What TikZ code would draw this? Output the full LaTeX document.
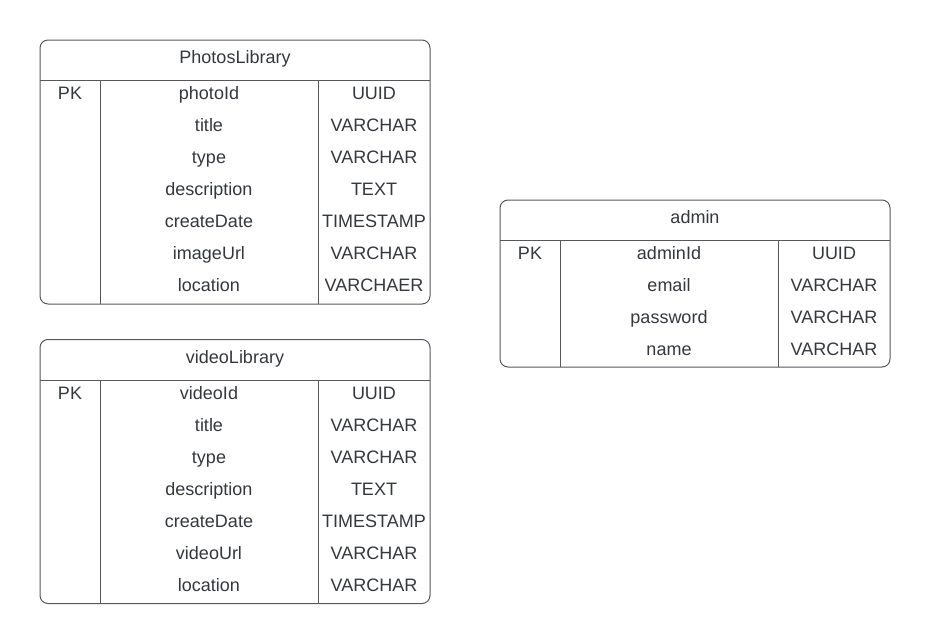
\documentclass[tikz,border=0pt]{standalone}
\usepackage{fontspec}
\setmainfont{Liberation Sans}
\usetikzlibrary{positioning}
\definecolor{linegray}{HTML}{55585F}
\definecolor{textgray}{HTML}{34373E}

\begin{document}
\begin{tikzpicture}
  [x=1pt,y=-1pt,font=\fontsize{18}{21}\selectfont]
      \tikzstyle{table_style} = [draw=linegray, line width=1, rounded corners=8]
      \tikzstyle{line_style} = [draw=linegray, line width=1]
      \tikzstyle{cell} = [text=textgray, anchor=base, inner sep=0]
  \useasboundingbox (0,0) rectangle (930,643);
  % PhotosLibrary
  \node[table_style, minimum width=390pt, minimum height=264pt] (photos) at (235,172) {};
  \node[cell] (p0) at (235,63.5) {PhotosLibrary};
  \draw[line_style] (40,80.5) -- (430,80.5);
  \draw[line_style] (100.5,80.5) -- (100.5,304);
  \draw[line_style] (318.5,80.5) -- (318.5,304);
  \node[cell] (pk1) at (70,99.5) {PK};
  \node[cell] (p1) at (209,99.5) {photoId};
  \node[cell] (p2) at (209,131.5) {title};
  \node[cell] (p3) at (209,163.5) {type};
  \node[cell] (p4) at (209,195.5) {description};
  \node[cell] (p5) at (209,227.5) {createDate};
  \node[cell] (p6) at (209,259.5) {imageUrl};
  \node[cell] (p7) at (209,291.5) {location};
  \node[cell] (pt1) at (374,99.5) {UUID};
  \node[cell] (pt2) at (374,131.5) {VARCHAR};
  \node[cell] (pt3) at (374,163.5) {VARCHAR};
  \node[cell] (pt4) at (374,195.5) {TEXT};
  \node[cell] (pt5) at (374,227.5) {TIMESTAMP};
  \node[cell] (pt6) at (374,259.5) {VARCHAR};
  \node[cell] (pt7) at (374,291.5) {VARCHAER};
  % videoLibrary
  \node[table_style, minimum width=390pt, minimum height=264pt] (videos) at (235,471.5) {};
  \node[cell] (v0) at (235,363.5) {videoLibrary};
  \draw[line_style] (40,380) -- (430,380);
  \draw[line_style] (100.5,380) -- (100.5,603.5);
  \draw[line_style] (318.5,380) -- (318.5,603.5);
  \node[cell] (vk1) at (70,399) {PK};
  \node[cell] (v1) at (209,399) {videoId};
  \node[cell] (v2) at (209,431) {title};
  \node[cell] (v3) at (209,463) {type};
  \node[cell] (v4) at (209,495) {description};
  \node[cell] (v5) at (209,527) {createDate};
  \node[cell] (v6) at (209,559) {videoUrl};
  \node[cell] (v7) at (209,591) {location};
  \node[cell] (vt1) at (374,399) {UUID};
  \node[cell] (vt2) at (374,431) {VARCHAR};
  \node[cell] (vt3) at (374,463) {VARCHAR};
  \node[cell] (vt4) at (374,495) {TEXT};
  \node[cell] (vt5) at (374,527) {TIMESTAMP};
  \node[cell] (vt6) at (374,559) {VARCHAR};
  \node[cell] (vt7) at (374,591) {VARCHAR};
  % admin
  \node[table_style, minimum width=390pt, minimum height=167pt] (admin) at (695,283.5) {};
  \node[cell] (a0) at (695,223.5) {admin};
  \draw[line_style] (500,240.5) -- (890,240.5);
  \draw[line_style] (560.5,240.5) -- (560.5,367);
  \draw[line_style] (778.5,240.5) -- (778.5,367);
  \node[cell] (ak1) at (530,259.5) {PK};
  \node[cell] (a1) at (669,259.5) {adminId};
  \node[cell] (a2) at (669,291.5) {email};
  \node[cell] (a3) at (669,323.5) {password};
  \node[cell] (a4) at (669,355.5) {name};
  \node[cell] (at1) at (834,259.5) {UUID};
  \node[cell] (at2) at (834,291.5) {VARCHAR};
  \node[cell] (at3) at (834,323.5) {VARCHAR};
  \node[cell] (at4) at (834,355.5) {VARCHAR};
\end{tikzpicture}
\end{document}
